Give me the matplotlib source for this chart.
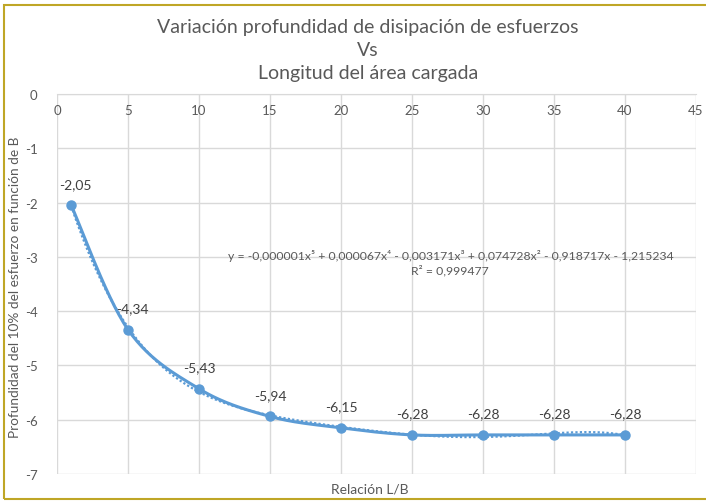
import numpy as np
import matplotlib
matplotlib.use("Agg")
import matplotlib.pyplot as plt
from matplotlib.patches import Rectangle

x_vals = [1, 5, 10, 15, 20, 25, 30, 35, 40]
y_vals = [-2.05, -4.34, -5.43, -5.94, -6.15, -6.28, -6.28, -6.28, -6.28]
labels = ["-2,05", "-4,34", "-5,43", "-5,94", "-6,15", "-6,28", "-6,28", "-6,28", "-6,28"]
x_ticks = [0, 5, 10, 15, 20, 25, 30, 35, 40, 45]
y_ticks = [0, -1, -2, -3, -4, -5, -6, -7]

title_lines = ["Variación profundidad de disipación de esfuerzos", "Vs", "Longitud del área cargada"]
xlabel = "Relación L/B"
ylabel = "Profundidad del 10% del esfuerzo en función de B"
eq_text = "y = -0,000001x⁵ + 0,000067x⁴ - 0,003171x³ + 0,074728x² - 0,918717x - 1,215234\nR² = 0,999477"

plt.rcParams['font.family'] = ['Lato', 'DejaVu Sans']
BLUE = "#5b9bd5"
GRAY = "#595959"
GRID = "#d9d9d9"

def catmull_rom(xs, ys, n=30):
    P = np.column_stack([xs, ys]).astype(float)
    P = np.vstack([P[0], P, P[-1]])
    out = []
    for i in range(1, len(P) - 2):
        p0, p1, p2, p3 = P[i - 1], P[i], P[i + 1], P[i + 2]
        t = np.linspace(0, 1, n)[:, None]
        seg = 0.5 * ((2 * p1) + (-p0 + p2) * t + (2 * p0 - 5 * p1 + 4 * p2 - p3) * t ** 2
                     + (-p0 + 3 * p1 - 3 * p2 + p3) * t ** 3)
        out.append(seg if i == len(P) - 3 else seg[:-1])
    S = np.vstack(out)
    return S[:, 0], S[:, 1]

fig = plt.figure(figsize=(7.06, 5.02), dpi=100)
fig.patches.append(Rectangle((4 / 706, 2 / 502), 1.0, 494 / 502, transform=fig.transFigure,
                             fill=False, edgecolor="#bfa626", linewidth=1.5, zorder=-1))
ax = fig.add_axes([57 / 706, 27 / 502, 639 / 706, 380 / 502])
ax.set_xlim(0, 45)
ax.set_ylim(-7, 0)
ax.set_xticks(x_ticks)
ax.set_yticks(y_ticks)
ax.set_xticklabels([str(v) for v in x_ticks])
ax.set_yticklabels([str(v) for v in y_ticks])
ax.grid(True, color=GRID, linewidth=1)
ax.set_axisbelow(True)
for s in ["right", "bottom", "left"]:
    ax.spines[s].set_visible(False)
ax.spines["top"].set_color(GRID)
ax.tick_params(axis="x", top=False, bottom=False, labelbottom=False, labeltop=True,
               pad=-16, labelsize=9.5, labelcolor=GRAY, length=0)
ax.tick_params(axis="y", left=False, labelsize=9.5, labelcolor=GRAY, length=0, pad=14)

# trendline (5th order polynomial fit)
coef = np.polyfit(x_vals, y_vals, 5)
xt = np.linspace(min(x_vals), max(x_vals), 300)
ax.plot(xt, np.polyval(coef, xt), color=BLUE, linestyle=(0, (1, 1)), linewidth=1.6, zorder=2)

sx, sy = catmull_rom(x_vals, y_vals)
ax.plot(sx, sy, color=BLUE, linewidth=2.2, zorder=3)
ax.plot(x_vals, y_vals, "o", color=BLUE, markersize=6.5, zorder=4)

for xv, yv, lab in zip(x_vals, y_vals, labels):
    ax.annotate(lab, (xv, yv), xytext=(3 if xv < 10 else 0, 11), textcoords="offset points",
                ha="center", va="bottom", fontsize=10, color="#404040")

ax.text(27.7, -3.1, eq_text, ha="center", va="center", fontsize=8.8, color=GRAY, linespacing=1.3)

for line, ypx in zip(title_lines, [27, 50, 74]):
    fig.text(368 / 706, 1 - ypx / 502, line, ha="center", va="center", fontsize=14, color=GRAY)
fig.text(370 / 706, 1 - 490 / 502, xlabel, ha="center", va="center", fontsize=10, color=GRAY)
fig.text(15 / 706, 1 - 287 / 502, ylabel, ha="center", va="center", rotation=90,
         fontsize=9.8, color=GRAY)

fig.savefig("out.png", dpi=100)
